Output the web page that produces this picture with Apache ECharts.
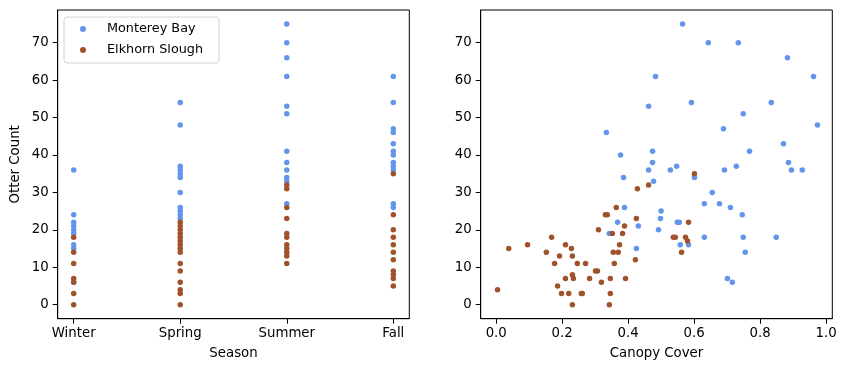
<!DOCTYPE html>
<html>
<head>
<meta charset="utf-8">
<script src="https://cdn.jsdelivr.net/npm/echarts@6/dist/echarts.min.js"></script>
<style>
html,body{margin:0;padding:0;background:#fff;}
#chart{width:847px;height:371px;}
</style>
</head>
<body>
<div id="chart"></div>
<script>
// ---- data ----
const seasons = ['Winter', 'Spring', 'Summer', 'Fall'];
const seriesNames = ['Monterey Bay', 'Elkhorn Slough'];

// Otter counts per season (Winter, Spring, Summer, Fall)
const montereyBySeason = [
  [36, 24, 22, 21, 20, 19, 16, 15, 6],
  [54, 48, 37, 36, 35, 34, 30, 26, 25, 24, 23],
  [75, 70, 66, 61, 53, 51, 41, 38, 36, 34, 33, 27],
  [61, 54, 47, 46, 43, 41, 40, 38, 37, 36, 27, 26]
];
const elkhornBySeason = [
  [18, 14, 11, 7, 6, 3, 0],
  [22, 21, 20, 19, 18, 17, 16, 15, 14, 11, 9, 6, 4, 3, 0],
  [32, 31, 26, 23, 19, 18, 16, 15, 14, 13, 11],
  [35, 24, 20, 18, 16, 14, 12, 9, 8, 7, 5]
];

// [canopy cover, otter count]
const montereyCanopy = [
  [0.483,61],[0.462,53],[0.334,46],[0.377,40],[0.474,41],[0.474,38],[0.462,36],[0.477,33],
  [0.386,34],[0.389,26],[0.500,25],[0.498,23],[0.368,22],[0.431,21],[0.492,20],[0.343,19],
  [0.425,15],[0.565,75],[0.643,70],[0.734,70],[0.883,66],[0.962,61],[0.592,54],[0.834,54],
  [0.749,51],[0.974,48],[0.689,47],[0.871,43],[0.768,41],[0.886,38],[0.895,36],[0.928,36],
  [0.692,36],[0.728,37],[0.547,37],[0.528,36],[0.601,34],[0.655,30],[0.631,27],[0.677,27],
  [0.710,26],[0.746,24],[0.549,22],[0.555,22],[0.631,18],[0.749,18],[0.849,18],[0.558,16],
  [0.583,16],[0.755,14],[0.701,7],[0.716,6]
];
const elkhornCanopy = [
  [0.004,4],[0.038,15],[0.095,16],[0.168,18],[0.152,14],[0.210,16],[0.228,15],[0.192,13],
  [0.231,13],[0.177,11],[0.246,11],[0.271,11],[0.301,9],[0.307,9],[0.231,8],[0.234,7],
  [0.210,7],[0.283,7],[0.186,5],[0.198,3],[0.220,3],[0.258,3],[0.261,3],[0.231,0],
  [0.343,0],[0.346,3],[0.319,6],[0.346,7],[0.392,7],[0.358,11],[0.422,12],[0.355,14],
  [0.370,14],[0.374,16],[0.310,20],[0.352,19],[0.383,19],[0.389,21],[0.425,23],[0.331,24],
  [0.337,24],[0.364,26],[0.428,31],[0.462,32],[0.601,35],[0.583,22],[0.537,18],[0.543,18],
  [0.574,18],[0.580,17],[0.562,14]
];

const yTicks = [0, 10, 20, 30, 40, 50, 60, 70];
const seasonTicks = [0, 1, 2, 3];
const canopyTicks = [0, 0.2, 0.4, 0.6, 0.8, 1.0];

// ---- styling ----
const BLUE = '#6495ED';
const BROWN = '#A0522D';
const FONT = 'DejaVu Sans';
const FS = 13.3;

function flatten(bySeason) {
  const out = [];
  bySeason.forEach((vals, i) => vals.forEach(v => out.push([i, v])));
  return out;
}

const axisLineStyle = { show: true, onZero: false, lineStyle: { color: '#000', width: 1 } };
const tickStyle = { show: true, length: 5, lineStyle: { color: '#000', width: 1 } };
const labelStyle = { color: '#000', fontFamily: FONT, fontSize: FS, margin: 8 };

function yAxis(gridIndex, name) {
  return {
    type: 'value', gridIndex, min: -3.75, max: 78.75,
    name: name || '', nameLocation: 'middle', nameGap: 36,
    nameTextStyle: { color: '#000', fontFamily: FONT, fontSize: FS },
    axisLine: axisLineStyle,
    axisTick: Object.assign({ customValues: yTicks }, tickStyle),
    axisLabel: Object.assign({ customValues: yTicks }, labelStyle, { margin: 9 }),
    splitLine: { show: false }
  };
}

const chart = echarts.init(document.getElementById('chart'));
chart.setOption({
  animation: false,
  backgroundColor: '#fff',
  grid: [
    { left: 57.7, right: 437.7, top: 10, bottom: 52.3, show: true, borderColor: '#000', borderWidth: 1, backgroundColor: 'transparent' },
    { left: 480.7, right: 14.7, top: 10, bottom: 52.3, show: true, borderColor: '#000', borderWidth: 1, backgroundColor: 'transparent' }
  ],
  legend: {
    orient: 'vertical', left: 64, top: 17,
    data: seriesNames,
    icon: 'circle', itemWidth: 26, itemHeight: 6, itemGap: 5,
    padding: [4, 16, 5, 16],
    borderColor: '#d4d4d4', borderWidth: 1, borderRadius: 3,
    backgroundColor: 'rgba(255,255,255,0.8)',
    textStyle: { color: '#000', fontFamily: FONT, fontSize: 12.8, lineHeight: 16, padding: [0, 0, 0, 6] }
  },
  xAxis: [
    {
      type: 'value', gridIndex: 0, min: -0.15, max: 3.15,
      name: 'Season', nameLocation: 'middle', nameGap: 28,
      nameTextStyle: { color: '#000', fontFamily: FONT, fontSize: FS },
      axisLine: axisLineStyle,
      axisTick: Object.assign({ customValues: seasonTicks }, tickStyle),
      axisLabel: Object.assign({ customValues: seasonTicks, formatter: v => seasons[Math.round(v)] }, labelStyle),
      splitLine: { show: false }
    },
    {
      type: 'value', gridIndex: 1, min: -0.047, max: 1.019,
      name: 'Canopy Cover', nameLocation: 'middle', nameGap: 28,
      nameTextStyle: { color: '#000', fontFamily: FONT, fontSize: FS },
      axisLine: axisLineStyle,
      axisTick: Object.assign({ customValues: canopyTicks }, tickStyle),
      axisLabel: Object.assign({ customValues: canopyTicks, formatter: v => v.toFixed(1) }, labelStyle),
      splitLine: { show: false }
    }
  ],
  yAxis: [yAxis(0, 'Otter Count'), yAxis(1)],
  series: [
    { name: seriesNames[0], type: 'scatter', xAxisIndex: 0, yAxisIndex: 0, symbolSize: 5.5, itemStyle: { color: BLUE, opacity: 1 }, data: flatten(montereyBySeason) },
    { name: seriesNames[1], type: 'scatter', xAxisIndex: 0, yAxisIndex: 0, symbolSize: 5.5, itemStyle: { color: BROWN, opacity: 1 }, data: flatten(elkhornBySeason) },
    { name: seriesNames[0], type: 'scatter', xAxisIndex: 1, yAxisIndex: 1, symbolSize: 5.5, itemStyle: { color: BLUE, opacity: 1 }, data: montereyCanopy },
    { name: seriesNames[1], type: 'scatter', xAxisIndex: 1, yAxisIndex: 1, symbolSize: 5.5, itemStyle: { color: BROWN, opacity: 1 }, data: elkhornCanopy }
  ]
});
</script>
</body>
</html>
